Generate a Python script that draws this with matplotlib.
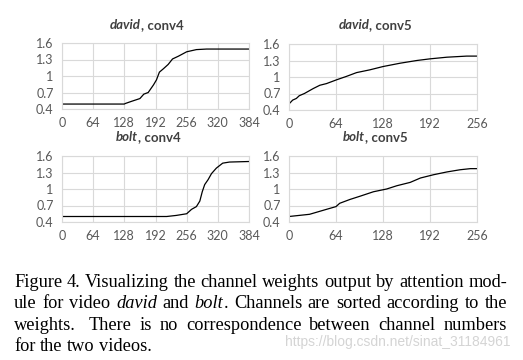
import numpy as np
import matplotlib.pyplot as plt

# values (channel index, weight)
david_conv4_ch = [0, 64, 128, 130, 143, 160, 168, 177, 188, 194, 200, 208, 218, 227, 239, 256, 276, 297, 320, 384]
david_conv4_w = [0.49, 0.49, 0.49, 0.50, 0.54, 0.59, 0.67, 0.70, 0.84, 0.93, 1.07, 1.13, 1.21, 1.31, 1.36, 1.44, 1.48, 1.49, 1.49, 1.49]

david_conv5_ch = [0, 5, 10, 14, 21, 33, 42, 51, 65, 78, 92, 110, 128, 151, 174, 192, 215, 242, 256]
david_conv5_w = [0.51, 0.58, 0.61, 0.66, 0.70, 0.79, 0.85, 0.88, 0.95, 1.01, 1.08, 1.13, 1.19, 1.25, 1.30, 1.33, 1.36, 1.38, 1.38]

bolt_conv4_ch = [0, 64, 128, 192, 215, 235, 256, 266, 276, 283, 288, 293, 300, 307, 317, 330, 344, 384]
bolt_conv4_w = [0.50, 0.50, 0.50, 0.50, 0.50, 0.52, 0.55, 0.63, 0.68, 0.78, 0.95, 1.08, 1.17, 1.28, 1.38, 1.47, 1.49, 1.50]

bolt_conv5_ch = [0, 28, 51, 64, 69, 83, 97, 115, 133, 147, 165, 179, 197, 215, 233, 247, 256]
bolt_conv5_w = [0.50, 0.54, 0.63, 0.68, 0.74, 0.81, 0.87, 0.95, 1.00, 1.06, 1.12, 1.20, 1.26, 1.31, 1.35, 1.37, 1.37]

y_ticks = [0.4, 0.7, 1, 1.3, 1.6]
y_labels = ['0.4', '0.7', '1', '1.3', '1.6']

W, H = 523, 360
fig = plt.figure(figsize=(W / 100, H / 100), dpi=100)
r = fig.canvas.get_renderer()

grid_c = '#d9d9d9'
tick_c = '#595959'


def make_ax(left, top, right, bottom, ch, w, xmax):
    ax = fig.add_axes([left / W, 1 - bottom / H, (right - left) / W, (bottom - top) / H])
    ax.plot(ch, w, color='black', linewidth=0.9)
    ax.set_xlim(0, xmax)
    ax.set_ylim(0.4, 1.6)
    ax.set_xticks(np.arange(0, xmax + 1, 64))
    ax.set_yticks(y_ticks)
    ax.set_yticklabels(y_labels)
    ax.grid(True, color=grid_c, linewidth=0.8)
    ax.set_axisbelow(True)
    for s in ax.spines.values():
        s.set_color(grid_c)
        s.set_linewidth(0.8)
    ax.tick_params(length=0, labelsize=9, labelcolor=tick_c, pad=6)
    for lab in ax.get_xticklabels() + ax.get_yticklabels():
        lab.set_family('Lato')
    return ax


make_ax(62, 43, 249, 109, david_conv4_ch, david_conv4_w, 384)
make_ax(289, 44, 477, 110, david_conv5_ch, david_conv5_w, 256)
make_ax(62, 156, 249, 222, bolt_conv4_ch, bolt_conv4_w, 384)
make_ax(289, 156, 477, 222, bolt_conv5_ch, bolt_conv5_w, 256)


def measure(txt, **kw):
    t = fig.text(0, 0, txt, **kw)
    wd = t.get_window_extent(r).width
    t.remove()
    return wd


def runs(x, y, parts, **kw):
    # parts: list of (text, style, weight), drawn side by side, centred on x
    widths = [measure(p[0], style=p[1], weight=p[2], **kw) for p in parts]
    cx = x - sum(widths) / 2
    for (txt, st, wt), wd in zip(parts, widths):
        fig.text(cx / W, 1 - y / H, txt, style=st, weight=wt, ha='left', **kw)
        cx += wd


title_kw = dict(family='Lato', size=9.5, color='#404040', va='center')
runs(147, 25, [('david', 'italic', 'bold'), (', conv4', 'normal', 'bold')], **title_kw)
runs(375, 25, [('david', 'italic', 'bold'), (', conv5', 'normal', 'bold')], **title_kw)
runs(148, 137, [('bolt', 'italic', 'bold'), (', conv4', 'normal', 'bold')], **title_kw)
runs(375, 137, [('bolt', 'italic', 'bold'), (', conv5', 'normal', 'bold')], **title_kw)

# caption, justified by hand
cap_kw = dict(family='Liberation Serif', size=13.2, color='black', va='baseline')
N, I = 'normal', 'italic'
cap_lines = [
    [[('Figure', N)], [('4.', N)], [('Visualizing', N)], [('the', N)], [('channel', N)], [('weights', N)],
     [('output', N)], [('by', N)], [('attention', N)], [('mod-', N)]],
    [[('ule', N)], [('for', N)], [('video', N)], [('david', I)], [('and', N)], [('bolt', I), ('.', N)],
     [('Channels', N)], [('are', N)], [('sorted', N)], [('according', N)], [('to', N)], [('the', N)]],
    [[('weights.', N)], [('There', N)], [('is', N)], [('no', N)], [('correspondence', N)], [('between', N)],
     [('channel', N)], [('numbers', N)]],
    [[('for', N)], [('the', N)], [('two', N)], [('videos.', N)]],
]
gap_weights = [None, None, [1.6, 1, 1, 1, 1, 1, 1], None]
baselines = [287, 308.5, 330, 351]
x0, x1 = 14, 507
space = measure('a a', **cap_kw) - measure('aa', **cap_kw)

for li, (words, yb) in enumerate(zip(cap_lines, baselines)):
    wws = [[measure(t, style=s, **cap_kw) for t, s in wd] for wd in words]
    total = sum(sum(a) for a in wws)
    gw = gap_weights[li] or [1] * (len(words) - 1)
    if li == len(cap_lines) - 1:
        unit = space
    else:
        unit = (x1 - x0 - total) / sum(gw)
    cx = x0
    for k, (wd, ws) in enumerate(zip(words, wws)):
        for (t, s), w_ in zip(wd, ws):
            fig.text(cx / W, 1 - yb / H, t, style=s, ha='left', **cap_kw)
            cx += w_
        if k < len(gw):
            cx += unit * gw[k]

fig.text(510 / W, 1 - 342 / H, 'https://blog.csdn.net/sinat_31184961', family='Liberation Sans',
         size=10, color='#d4d4d4', ha='right', va='center')

fig.savefig('out.png', dpi=100)
